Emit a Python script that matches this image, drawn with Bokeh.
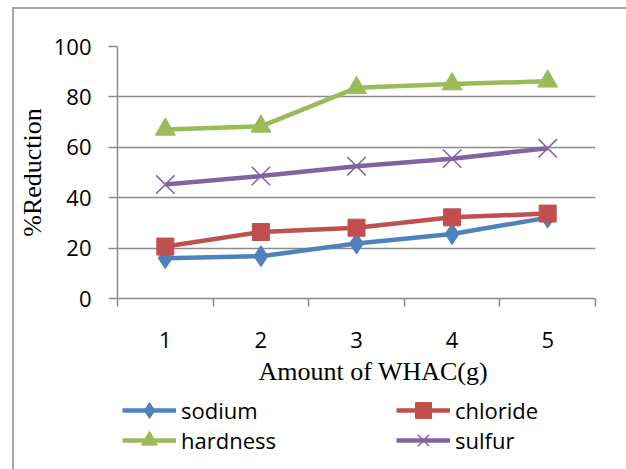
from bokeh.plotting import figure
from bokeh.layouts import column
from bokeh.models import FixedTicker, Legend, LegendItem, Range1d, Title
from bokeh.embed import file_html
from bokeh.resources import INLINE

# ---- data ----
amounts = [1, 2, 3, 4, 5]
tick_labels = ["1", "2", "3", "4", "5"]
sodium = [16.0, 16.8, 21.8, 25.6, 32.1]
chloride = [20.6, 26.4, 28.1, 32.2, 33.7]
hardness = [67.1, 68.3, 83.6, 85.1, 86.2]
sulfur = [45.2, 48.6, 52.5, 55.5, 59.6]
y_ticks = [0, 20, 40, 60, 80, 100]
x_title = "Amount of WHAC(g)"
y_title = "%Reduction"

SANS = "Open Sans"
SERIF = "Liberation Serif"
GRID = "#8c8c8c"
FRAME_CSS = "linear-gradient(#a6a6a6,#a6a6a6) 12px 7px / 2px 100% no-repeat, "\
            "linear-gradient(#a6a6a6,#a6a6a6) 12px 7px / 100% 2px no-repeat, #ffffff"
LEFT_CSS = "linear-gradient(#a6a6a6,#a6a6a6) 12px 0px / 2px 100% no-repeat, #ffffff"

series = [
    ("sodium", sodium, "#4f81bd", "diamond", 21),
    ("chloride", chloride, "#c0504d", "square", 17),
    ("hardness", hardness, "#9bbb59", "triangle", 20),
    ("sulfur", sulfur, "#8064a2", "x", 26),
]


def add_series(fig, name, vals, color, marker, size):
    lr = fig.line(amounts, vals, line_color=color, line_width=4.5)
    if marker == "x":
        sr = fig.scatter(amounts, vals, marker=marker, size=size, line_color=color, line_width=1.5)
    else:
        sr = fig.scatter(amounts, vals, marker=marker, size=size,
                         fill_color=color, line_color=color)
    return LegendItem(label=name, renderers=[lr, sr])


# ---------------- main chart ----------------
p = figure(width=626, height=402, output_backend="svg", toolbar_location=None,
           x_range=Range1d(0.5, 5.5), y_range=Range1d(0, 100),
           min_border_left=117, min_border_right=31, min_border_top=46, min_border_bottom=104)
p.outline_line_color = None
p.border_fill_color = None
p.background_fill_color = "white"
p.styles = {"background": FRAME_CSS}

xa = p.xaxis[0]
xa.ticker = FixedTicker(ticks=amounts, minor_ticks=[a - 0.5 for a in amounts] + [amounts[-1] + 0.5])
xa.major_label_overrides = {a: t for a, t in zip(amounts, tick_labels)}
xa.major_tick_line_color = None
xa.major_tick_out = 8
xa.minor_tick_line_color = GRID
xa.minor_tick_line_width = 1.5
xa.minor_tick_out = 8
xa.minor_tick_in = 0
xa.axis_line_color = GRID
xa.axis_line_width = 1.5
xa.major_label_text_font = SANS
xa.major_label_text_font_size = "22px"
xa.major_label_text_color = "black"
xa.major_label_standoff = 25

ya = p.yaxis[0]
ya.ticker = FixedTicker(ticks=y_ticks, minor_ticks=[])
ya.major_tick_line_color = GRID
ya.major_tick_line_width = 1.5
ya.major_tick_out = 9
ya.major_tick_in = 0
ya.minor_tick_line_color = None
ya.axis_line_color = GRID
ya.axis_line_width = 1.5
ya.major_label_text_font = SANS
ya.major_label_text_font_size = "22px"
ya.major_label_text_color = "black"
ya.major_label_standoff = 17
ya.axis_label = y_title
ya.axis_label_text_font = SERIF
ya.axis_label_text_font_size = "26px"
ya.axis_label_text_font_style = "normal"
ya.axis_label_text_color = "black"
ya.axis_label_standoff = 4

p.xgrid.grid_line_color = None
p.ygrid.ticker = FixedTicker(ticks=y_ticks)
p.ygrid.grid_line_color = GRID
p.ygrid.grid_line_width = 1.5

for s in series:
    add_series(p, *s)

p.add_layout(Title(text=x_title, align="left", offset=141, text_font=SERIF,
                   text_font_size="26px", text_font_style="normal", text_color="black",
                   standoff=9), "below")

# ---------------- legend strip ----------------
lf = figure(width=626, height=67, output_backend="svg", toolbar_location=None,
            x_range=Range1d(0.5, 5.5), y_range=Range1d(1000, 1001),
            x_axis_location=None, y_axis_location=None,
            min_border_left=0, min_border_right=0, min_border_top=0, min_border_bottom=0)
lf.outline_line_color = None
lf.border_fill_color = None
lf.background_fill_color = None
lf.xgrid.grid_line_color = None
lf.ygrid.grid_line_color = None
lf.styles = {"background": LEFT_CSS}

leg_items = [add_series(lf, *s) for s in series]
positions = [(5, 39), (279, 39), (5, 9), (279, 9)]
for item, loc in zip(leg_items, positions):
    lg = Legend(items=[item], location=loc, orientation="vertical",
                glyph_width=54, glyph_height=40, label_height=40, label_standoff=5,
                padding=0, margin=0, spacing=0,
                border_line_color=None, background_fill_alpha=0,
                label_text_font=SANS, label_text_font_size="22px", label_text_color="black")
    lf.add_layout(lg, "center")

layout = column(p, lf, spacing=0)
open("out.html", "w").write(file_html(layout, INLINE))
